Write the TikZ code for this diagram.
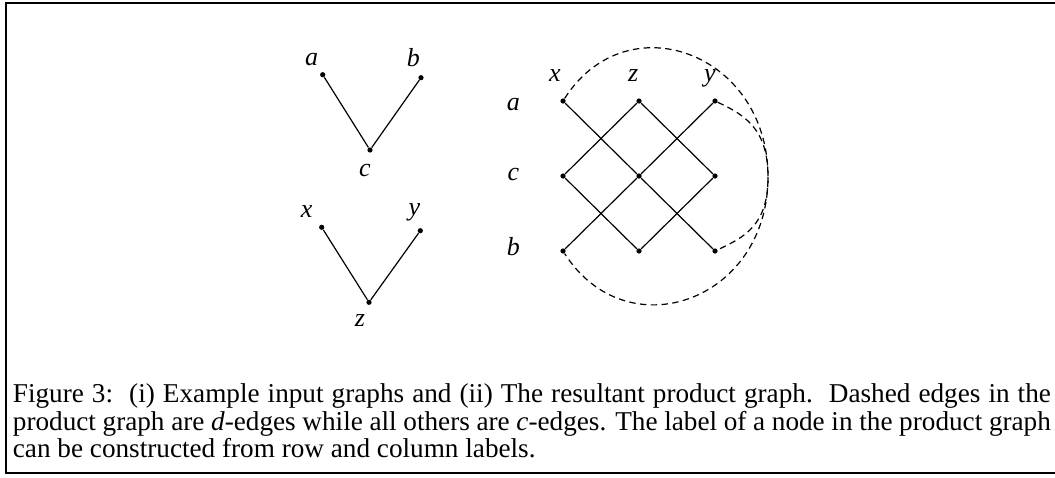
\documentclass[tikz,border=0pt]{standalone}
\usepackage{fontspec}
\setmainfont{Liberation Serif}
\usetikzlibrary{calc}

\begin{document}
\begin{tikzpicture}[
  x=0.5pt, y=-0.5pt,
  every node/.style={inner sep=0pt},
  dot/.style={circle, fill=black, minimum size=2.6pt, inner sep=0pt},
  vlabel/.style={anchor=base, font=\fontsize{13pt}{15pt}\selectfont\itshape},
  edge/.style={line width=0.6pt},
  dedge/.style={line width=0.6pt, dash pattern=on 3.2pt off 2.2pt},
  capline/.style={anchor=base west, font=\fontsize{13.6pt}{14pt}\selectfont}
]
  \useasboundingbox (0,0) rectangle (1055,477);
  \draw[line width=0.85pt] (5.7,3.3) rectangle (1070,473);

  % Graphe d'entree 1 (a, b, c)
  \node[dot] (a) at (322.7,74.7) {};
  \node[dot] (b) at (421,77.7) {};
  \node[dot] (c) at (370,150) {};
  \node[vlabel] (la) at (311.7,65) {a};
  \node[vlabel] (lb) at (413.3,66) {b};
  \node[vlabel] (lc) at (365,176.7) {c};
  \draw[edge] (a) -- (c) -- (b);

  % Graphe d'entree 2 (x, y, z)
  \node[dot] (x) at (321.7,227.3) {};
  \node[dot] (y) at (420.3,230.7) {};
  \node[dot] (z) at (369,302.3) {};
  \node[vlabel] (lx) at (306.7,217.7) {x};
  \node[vlabel] (ly) at (414.3,215) {y};
  \node[vlabel] (lz) at (360,326) {z};
  \draw[edge] (x) -- (z) -- (y);

  % Graphe produit
  \foreach \r/\ry in {a/101,c/176,b/251}
    \foreach \c/\cx in {x/563,z/639,y/715}
      \node[dot] (\r\c) at (\cx,\ry) {};

  % etiquettes de lignes et colonnes
  \node[vlabel] (ra) at (513.3,110) {a};
  \node[vlabel] (rc) at (513.3,180) {c};
  \node[vlabel] (rb) at (513.3,255) {b};
  \node[vlabel] (kx) at (555,81.7) {x};
  \node[vlabel] (kz) at (633.3,81.7) {z};
  \node[vlabel] (ky) at (710,81) {y};

  % c-edges
  \draw[edge] (ax) -- (cz) -- (by);
  \draw[edge] (bx) -- (cz) -- (ay);
  \draw[edge] (cx) -- (az) -- (cy);
  \draw[edge] (cx) -- (bz) -- (cy);

  % d-edges
  \coordinate (rgt) at (768,177);
  \draw[dedge] (ax) .. controls +(64,-100) and +(0,-124) .. (rgt)
    .. controls +(0,124) and +(64,100) .. (bx);
  \draw[dedge] (ay) .. controls +(30,14) and +(0,-48) .. (rgt)
    .. controls +(0,48) and +(30,-14) .. (by);

  % Legende
  \node[capline] (cap1) at (12.5,402.7) {\makebox[519pt][s]{Figure 3:\ \ (i) Example input graphs and (ii) The resultant product graph.\ \ Dashed edges in the}};
  \node[capline] (cap2) at (12.5,430) {\makebox[519pt][s]{product graph are \textit{d}-edges while all others are \textit{c}-edges. The label of a node in the product graph}};
  \node[capline] (cap3) at (12.5,457.7) {can be constructed from row and column labels.};
\end{tikzpicture}
\end{document}
